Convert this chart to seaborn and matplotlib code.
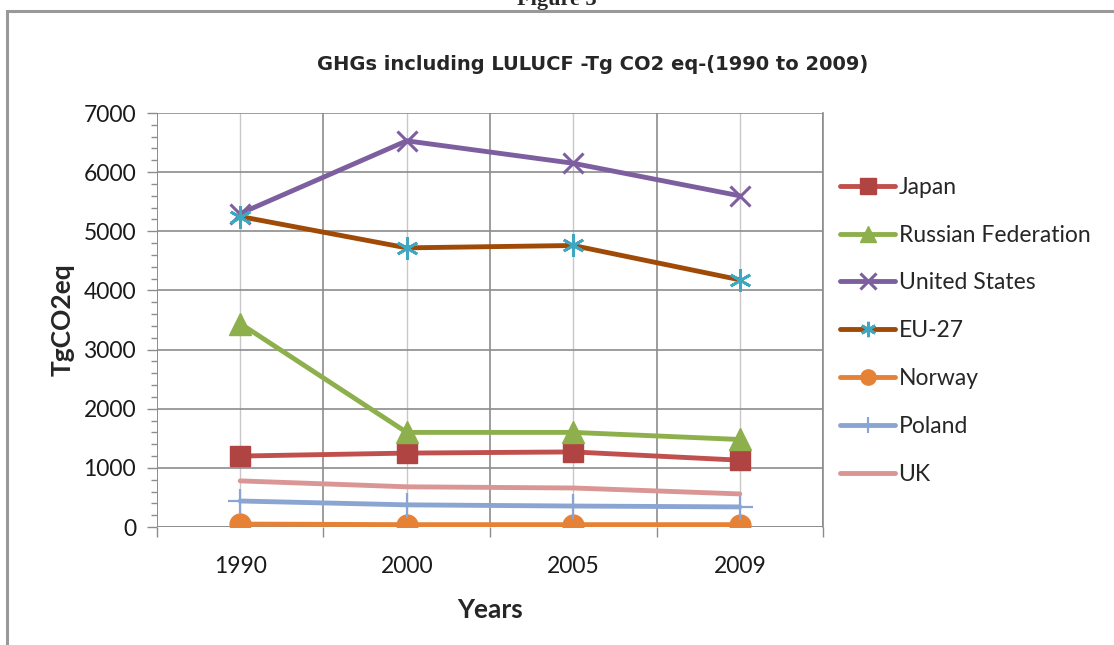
import numpy as np
import pandas as pd
import matplotlib
matplotlib.use("Agg")
import matplotlib.pyplot as plt
from matplotlib.ticker import MultipleLocator
from matplotlib.patches import Rectangle
import seaborn as sns

years = ["1990", "2000", "2005", "2009"]
countries = ["Japan", "Russian Federation", "United States", "EU-27", "Norway", "Poland", "UK"]

japan = [1200, 1250, 1270, 1130]
russia = [3440, 1600, 1600, 1480]
usa = [5300, 6530, 6150, 5600]
eu27 = [5250, 4720, 4760, 4180]
norway = [50, 40, 40, 40]
poland = [440, 375, 355, 340]
uk = [780, 680, 660, 560]

values = [japan, russia, usa, eu27, norway, poland, uk]

sns.set_theme(style="white")
plt.rcParams["font.family"] = ["Lato", "DejaVu Sans"]

# Excel-like styles per series: line colour, marker, marker colour, marker size, edge width
styles = {
    "Japan": ("#C0504D", "s", "#B04442", 15, 1),
    "Russian Federation": ("#8DB04C", "^", "#8DB04C", 16, 1),
    "United States": ("#7D5FA0", "x", "#7D5FA0", 15, 2.2),
    "EU-27": ("#A04A08", (6, 2, 0), "#3FA8C0", 16, 2),
    "Norway": ("#E58236", "o", "#E58236", 15, 1),
    "Poland": ("#8BA5D3", "+", "#8BA5D3", 18, 1.6),
    "UK": ("#D99694", "", "#D99694", 0, 1),
}

df = pd.DataFrame({
    "x": np.tile(np.arange(len(years)), len(countries)),
    "country": np.repeat(countries, len(years)),
    "value": np.concatenate(values),
})

fig = plt.figure(figsize=(11.14, 6.45), dpi=100)
ax = fig.add_axes([0.1409, 0.1829, 0.5979, 0.6419])

for c in countries:
    lc, mk, mc, ms, mew = styles[c]
    sub = df[df["country"] == c]
    sns.lineplot(data=sub, x="x", y="value", ax=ax, color=lc, lw=3.5,
                 marker=mk if mk else None, markersize=ms, markerfacecolor=mc,
                 markeredgecolor=mc, markeredgewidth=mew, label=c, zorder=3)

ax.set_xlim(-0.5, 3.5)
ax.set_ylim(0, 7000)
ax.yaxis.set_major_locator(MultipleLocator(1000))
ax.yaxis.set_minor_locator(MultipleLocator(200))
ax.set_xticks(np.arange(len(years)))
ax.set_xticklabels(years)
ax.set_xticks(np.arange(-0.5, 4.0, 1.0), minor=True)

ax.grid(True, which="major", axis="y", color="#8C8C8C", lw=1.2)
ax.grid(True, which="minor", axis="x", color="#8C8C8C", lw=1.2)
ax.grid(True, which="major", axis="x", color="#C8C8C8", lw=1.0)

for s in ["top", "left", "bottom"]:
    ax.spines[s].set_visible(False)
ax.spines["right"].set_color("#8C8C8C")
ax.spines["right"].set_linewidth(1.2)
ax.axvline(-0.5, color="#8C8C8C", lw=1.2, zorder=2)
ax.axhline(0, color="#8C8C8C", lw=1.2, zorder=2)

ax.tick_params(axis="y", which="major", left=True, length=7, width=1.0, color="#8C8C8C",
               labelsize=16.5, labelcolor="#1A1A1A", pad=8)
ax.tick_params(axis="y", which="minor", left=True, length=4, width=1.0, color="#8C8C8C")
ax.tick_params(axis="x", which="major", bottom=False, labelsize=16.5, labelcolor="#1A1A1A", pad=15)
ax.tick_params(axis="x", which="minor", bottom=True, length=7, width=1.0, color="#8C8C8C")

ax.set_xlabel("Years", fontsize=19, fontweight="bold", labelpad=15)
ax.set_ylabel("TgCO2eq", fontsize=19, fontweight="bold", labelpad=6)

fig.text(0.532, 0.9, "GHGs including LULUCF -Tg CO2 eq-(1990 to 2009)",
         ha="center", va="center", fontsize=14, fontweight="bold",
         family=["Liberation Sans Narrow", "DejaVu Sans"])

leg = ax.legend(loc="upper left", bbox_to_anchor=(1.012, 0.868), frameon=False,
                fontsize=16.5, handlelength=2.4, handletextpad=0.15,
                labelspacing=1.17, borderaxespad=0)
for line in leg.get_lines():
    line.set_linewidth(3.5)
    line.set_markersize(11)

# outer chart frame and clipped caption
fig.patches.append(Rectangle((7 / 1114, -0.2), 1.2, 1.2 - 11 / 645, transform=fig.transFigure,
                             fill=False, edgecolor="#999999", lw=2.2))
fig.text(0.5, 1.0, "Figure 3", ha="center", va="center", fontsize=16, fontweight="bold",
         family=["Liberation Serif", "DejaVu Serif"])

fig.savefig("out.png", dpi=100)
